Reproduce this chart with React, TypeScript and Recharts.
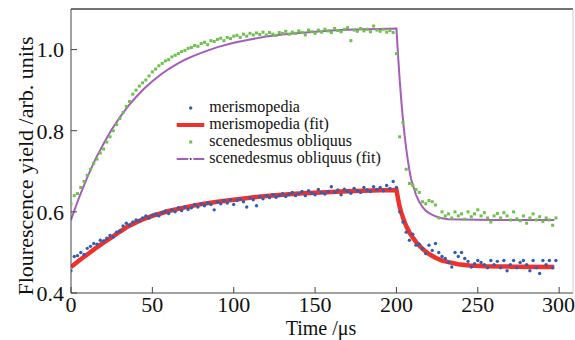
import React from "react";
import { ComposedChart, Label, Legend, Line, Scatter, XAxis, YAxis } from "recharts";

// sampling grid of the measured points (µs)
const sampleTimes = [
  0, 2, 4, 6, 8, 10, 12, 14, 16, 18, 20, 22, 24, 26, 28, 30, 32, 34, 36, 38,
  40, 42, 44, 46, 48, 50, 52, 54, 56, 58, 60, 62, 64, 66, 68, 70, 72, 74, 76, 78,
  80, 82, 84, 86, 88, 90, 92, 94, 96, 98, 100, 102, 104, 106, 108, 110, 112, 114, 116, 118,
  120, 122, 124, 126, 128, 130, 132, 134, 136, 138, 140, 142, 144, 146, 148, 150, 152, 154, 156, 158,
  160, 162, 164, 166, 168, 170, 172, 174, 176, 178, 180, 182, 184, 186, 188, 190, 192, 194, 196, 198,
  200, 202, 204, 206, 208, 210, 212, 214, 216, 218, 220, 222, 224, 226, 228, 230, 232, 234, 236, 238,
  240, 242, 244, 246, 248, 250, 252, 254, 256, 258, 260, 262, 264, 266, 268, 270, 272, 274, 276, 278,
  280, 282, 284, 286, 288, 290, 292, 294, 296, 298,
];

const merismopediaValues = [
  0.455, 0.49, 0.492, 0.5, 0.495, 0.51, 0.515, 0.522, 0.52, 0.53,
  0.528, 0.535, 0.542, 0.538, 0.55, 0.553, 0.565, 0.572, 0.568, 0.575,
  0.58, 0.578, 0.585, 0.59, 0.585, 0.592, 0.595, 0.59, 0.598, 0.602,
  0.596, 0.605, 0.6, 0.61, 0.603, 0.612, 0.606, 0.61, 0.618, 0.612,
  0.62, 0.615, 0.622, 0.618, 0.605, 0.625, 0.62, 0.628, 0.622, 0.63,
  0.618, 0.628, 0.632, 0.625, 0.612, 0.635, 0.63, 0.615, 0.638, 0.632,
  0.64, 0.635, 0.642, 0.636, 0.64, 0.645, 0.638, 0.643, 0.648, 0.64,
  0.645, 0.65, 0.64, 0.652, 0.646, 0.642, 0.655, 0.648, 0.644, 0.65,
  0.662, 0.648, 0.654, 0.642, 0.656, 0.65, 0.646, 0.658, 0.652, 0.648,
  0.66, 0.654, 0.65, 0.662, 0.655, 0.66, 0.652, 0.665, 0.658, 0.675,
  0.66, 0.6, 0.575, 0.55, 0.53, 0.545, 0.518, 0.52, 0.51, 0.497,
  0.518, 0.505, 0.522, 0.5, 0.49, 0.485, 0.475, 0.464, 0.5, 0.49,
  0.5, 0.485, 0.478, 0.464, 0.472, 0.48, 0.475, 0.47, 0.462, 0.48,
  0.47, 0.478, 0.462, 0.48, 0.455, 0.47, 0.48, 0.462, 0.475, 0.48,
  0.47, 0.455, 0.48, 0.462, 0.448, 0.48, 0.47, 0.48, 0.462, 0.48,
];

const scenedesmusValues = [
  0.62, 0.64, 0.645, 0.66, 0.675, 0.69, 0.705, 0.72, 0.73, 0.745,
  0.755, 0.772, 0.785, 0.8, 0.815, 0.83, 0.845, 0.86, 0.872, 0.89,
  0.9, 0.91, 0.918, 0.925, 0.935, 0.945, 0.952, 0.96, 0.966, 0.972,
  0.975, 0.982, 0.986, 0.99, 0.995, 0.998, 1.003, 1.005, 1.01, 1.008,
  1.015, 1.018, 1.012, 1.022, 1.02, 1.025, 1.028, 1.022, 1.03, 1.027,
  1.033, 1.035, 1.03, 1.038, 1.033, 1.04, 1.036, 1.041, 1.037, 1.043,
  1.036, 1.042, 1.038, 1.035, 1.042, 1.04, 1.045, 1.038, 1.043, 1.04,
  1.046, 1.042, 1.036, 1.048, 1.044, 1.04, 1.048, 1.043, 1.05, 1.046,
  1.042, 1.052, 1.047, 1.044, 1.05, 1.054, 1.022, 1.048, 1.045, 1.052,
  1.046, 1.05, 1.044, 1.058, 1.048, 1.045, 1.05, 1.043, 1.047, 1.042,
  0.99, 0.785, 0.82, 0.705, 0.67, 0.665, 0.655, 0.648, 0.625, 0.62,
  0.628, 0.625, 0.617, 0.585, 0.6, 0.59, 0.595, 0.585, 0.6, 0.59,
  0.595, 0.582, 0.6, 0.588, 0.595, 0.605, 0.59, 0.598, 0.585, 0.575,
  0.59, 0.596, 0.585, 0.598, 0.59, 0.58, 0.6, 0.583, 0.578, 0.59,
  0.572, 0.585, 0.595, 0.58, 0.588, 0.576, 0.585, 0.58, 0.567, 0.585,
];

const merismopediaFitTimes = [
  0, 5, 10, 15, 20, 25, 30, 35, 40, 45, 50, 55, 60,
  70, 80, 90, 100, 110, 120, 130, 140, 150, 160, 170, 180, 190, 200,
  201, 202, 203, 204, 205, 206, 208, 210, 212, 214, 216, 218, 220,
  224, 228, 232, 238, 245, 255, 270, 297,
];
const merismopediaFitValues = [
  0.464, 0.48, 0.495, 0.51, 0.524, 0.537, 0.551, 0.564, 0.574, 0.583, 0.59, 0.596, 0.602,
  0.611, 0.619, 0.625, 0.63, 0.635, 0.639, 0.642, 0.645, 0.647, 0.649, 0.651, 0.652, 0.653, 0.654,
  0.632, 0.612, 0.598, 0.586, 0.575, 0.565, 0.549, 0.537, 0.526, 0.517, 0.509, 0.502, 0.496,
  0.487, 0.48, 0.476, 0.471, 0.468, 0.466, 0.465, 0.464,
];

const scenedesmusFitTimes = [
  0, 5, 10, 15, 20, 25, 30, 35, 40, 45, 50, 55, 60, 65, 70, 75, 80,
  90, 100, 110, 120, 130, 140, 150, 160, 170, 180, 190, 200,
  201, 202, 203, 204, 205, 206, 207, 208, 209, 210,
  212, 214, 216, 218, 220, 224, 228, 232, 240, 260, 297,
];
const scenedesmusFitValues = [
  0.58, 0.636, 0.685, 0.73, 0.768, 0.803, 0.833, 0.86, 0.883, 0.904, 0.922, 0.938, 0.952, 0.964, 0.975, 0.984, 0.992,
  1.006, 1.017, 1.025, 1.032, 1.037, 1.041, 1.044, 1.047, 1.049, 1.05, 1.051, 1.052,
  0.985, 0.925, 0.873, 0.828, 0.789, 0.756, 0.727, 0.702, 0.681, 0.668,
  0.642, 0.625, 0.612, 0.603, 0.597, 0.589, 0.584, 0.582, 0.581, 0.58, 0.58,
];

const xTicks = [0, 50, 100, 150, 200, 250, 300];
const yTicks = [0.4, 0.6, 0.8, 1.0];
const legendLabels = [
  "merismopedia",
  "merismopedia (fit)",
  "scenedesmus obliquus",
  "scenedesmus obliquus (fit)",
];

const FONT = '"Liberation Serif", "Times New Roman", serif';
const AXIS = "#444";
const BLUE = "#2f5fb3";
const RED = "#f0302a";
const GREEN = "#6cc24a";
const PURPLE = "#a65cbb";

const toRows = (times: number[], values: number[]) => times.map((t, i) => ({ t, v: values[i] }));

const merismopediaRows = toRows(sampleTimes, merismopediaValues);
const scenedesmusRows = toRows(sampleTimes, scenedesmusValues);
const merismopediaFit = toRows(merismopediaFitTimes, merismopediaFitValues);
const scenedesmusFit = toRows(scenedesmusFitTimes, scenedesmusFitValues);

const Dot = (p: any) => <circle cx={p.cx} cy={p.cy} r={1.7} fill={BLUE} />;
const Square = (p: any) => <rect x={p.cx - 1.5} y={p.cy - 1.5} width={3} height={3} fill={GREEN} />;

const LegendBox = () => {
  const rows = [13, 30, 47, 64];
  return (
    <svg width={240} height={74} style={{ display: "block" }}>
      <circle cx={20.7} cy={rows[0]} r={1.7} fill={BLUE} />
      <line x1={6.7} x2={34.3} y1={rows[1]} y2={rows[1]} stroke={RED} strokeWidth={4} />
      <rect x={19.2} y={rows[2] - 1.5} width={3} height={3} fill={GREEN} />
      <line x1={6.7} x2={18.3} y1={rows[3]} y2={rows[3]} stroke={PURPLE} strokeWidth={2} />
      <line x1={23.3} x2={34.3} y1={rows[3]} y2={rows[3]} stroke={PURPLE} strokeWidth={2} />
      <circle cx={20.7} cy={rows[3]} r={1} fill="#333" />
      {legendLabels.map((name, i) => (
        <text key={name} x={39.3} y={rows[i] + 4.3} fontFamily={FONT} fontSize={16} fill="#111">
          {name}
        </text>
      ))}
    </svg>
  );
};

export default function App() {
  const tickStyle = { fill: "#111", fontSize: 22, fontFamily: FONT };
  return (
    <div style={{ position: "absolute", left: 0, top: 0, width: 575, height: 340, background: "#fff" }}>
      <ComposedChart width={575} height={340} margin={{ top: 8, right: 1, bottom: 7, left: 11 }}>
        <XAxis
          type="number"
          dataKey="t"
          domain={[0, 308.5]}
          ticks={xTicks}
          allowDataOverflow
          height={40}
          tickSize={-6}
          tickMargin={9}
          tick={tickStyle}
          tickLine={{ stroke: AXIS }}
          axisLine={{ stroke: AXIS }}
        >
          <Label
            content={() => (
              <text x={321} y={335} textAnchor="middle" fontFamily={FONT} fontSize={20} fill="#111">
                Time /μs
              </text>
            )}
          />
        </XAxis>
        <XAxis
          xAxisId="top"
          orientation="top"
          type="number"
          dataKey="t"
          domain={[0, 308.5]}
          allowDataOverflow
          height={1}
          tick={false}
          tickLine={false}
          axisLine={{ stroke: AXIS, strokeWidth: 1.5 }}
        />
        <YAxis
          type="number"
          domain={[0.4, 1.1]}
          ticks={yTicks}
          allowDataOverflow
          width={60}
          tickSize={-6}
          tickMargin={13}
          tick={tickStyle}
          tickFormatter={(v: number) => v.toFixed(1)}
          tickLine={{ stroke: AXIS }}
          axisLine={{ stroke: AXIS }}
        >
          <Label
            content={() => (
              <text
                x={33}
                y={166}
                transform="rotate(-90, 33, 166)"
                textAnchor="middle"
                fontFamily={FONT}
                fontSize={22}
                fill="#111"
              >
                Flourescence yield /arb. units
              </text>
            )}
          />
        </YAxis>
        <YAxis
          yAxisId="right"
          orientation="right"
          type="number"
          domain={[0.4, 1.1]}
          allowDataOverflow
          width={1}
          tick={false}
          tickLine={false}
          axisLine={{ stroke: "#ccc" }}
        />
        <Scatter data={merismopediaRows} dataKey="v" shape={Dot} isAnimationActive={false} />
        <Scatter data={scenedesmusRows} dataKey="v" shape={Square} isAnimationActive={false} />
        <Line
          data={merismopediaFit}
          dataKey="v"
          type="linear"
          stroke={RED}
          strokeWidth={4.5}
          dot={false}
          isAnimationActive={false}
        />
        <Line
          data={scenedesmusFit}
          dataKey="v"
          type="linear"
          stroke={PURPLE}
          strokeWidth={2}
          dot={false}
          isAnimationActive={false}
        />
        <Legend
          layout="vertical"
          align="center"
          verticalAlign="middle"
          wrapperStyle={{ left: 170, top: 95, width: 240, height: 74 }}
          content={() => <LegendBox />}
        />
      </ComposedChart>
    </div>
  );
}
